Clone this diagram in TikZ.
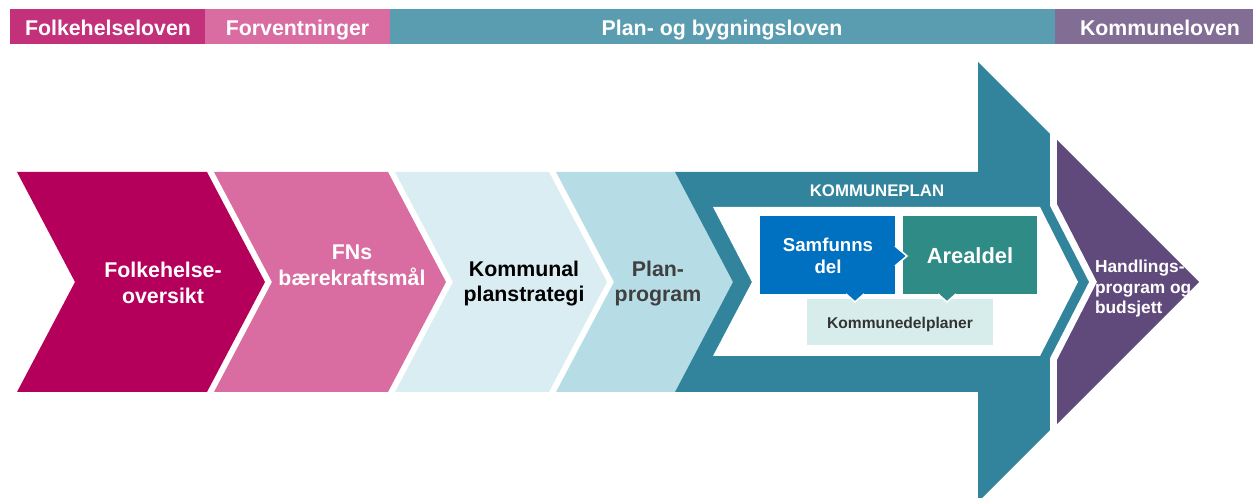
\documentclass[tikz,border=0pt]{standalone}
\usepackage{fontspec}
\setmainfont{Liberation Sans}
\definecolor{cHfolk}{HTML}{C4317B}
\definecolor{cForv}{HTML}{D96DA1}
\definecolor{cPbl}{HTML}{5B9DB0}
\definecolor{cKl}{HTML}{826D94}
\definecolor{cFolk}{HTML}{B4005A}
\definecolor{cPale}{HTML}{DAEDF3}
\definecolor{cPlanprog}{HTML}{B6DCE6}
\definecolor{cTeal}{HTML}{31849B}
\definecolor{cPurple}{HTML}{604A7B}
\definecolor{cSamf}{HTML}{0070C0}
\definecolor{cAreal}{HTML}{2F8B85}
\definecolor{cKdp}{HTML}{D6EDEC}
\definecolor{cDark}{HTML}{404040}
\begin{document}
\begin{tikzpicture}[x=0.75pt,y=-0.75pt,
  every node/.style={inner sep=0pt, outer sep=0pt},
  hdr/.style={anchor=base, text=white, font=\fontsize{16}{19}\selectfont\bfseries},
  chev/.style={align=center, font=\fontsize{16}{19.5}\selectfont\bfseries},
  pointer/.style={draw=white, line width=1.2pt, line join=miter}]
\useasboundingbox (0,0) rectangle (1253,498);
\clip (0,0) rectangle (1253,498);
% header bars
\fill[cHfolk] (10,9) rectangle (205,44);
\fill[cForv] (205,9) rectangle (390,44);
\fill[cPbl] (390,9) rectangle (1055,44);
\fill[cKl] (1055,9) rectangle (1253,44);
\node[hdr] (hfolk) at (108,35.5) {Folkehelseloven};
\node[hdr] (hforv) at (297.5,35.5) {Forventninger};
\node[hdr] (hpbl) at (722,35.5) {Plan- og bygningsloven};
\node[hdr] (hkl) at (1160,35.5) {Kommuneloven};
% chevrons
\fill[cFolk] (17,172) -- (207,172) -- (265,282) -- (207,392) -- (17,392) -- (75,282) -- cycle;
\fill[cForv] (214,172) -- (388,172) -- (446,282) -- (388,392) -- (214,392) -- (272,282) -- cycle;
\fill[cPale] (395,172) -- (549,172) -- (607,282) -- (549,392) -- (395,392) -- (453,282) -- cycle;
\fill[cPlanprog] (556,172) -- (675,172) -- (733,282) -- (675,392) -- (556,392) -- (614,282) -- cycle;
% big teal arrow
\fill[cTeal] (675,172) -- (978,172) -- (978,62) -- (1198,282) -- (978,502) -- (978,392) -- (675,392) -- (733,282) -- cycle;
\fill[white] (713,207) -- (1040,207) -- (1078,282) -- (1040,356) -- (713,356) -- (752,282) -- cycle;
% purple chevron with white gap
\draw[white, line width=10.5pt, line join=miter] (1057,140) -- (1199,282) -- (1057,424) -- (1057,360) -- (1097,282) -- (1057,204) -- cycle;
\fill[cPurple] (1057,140) -- (1199,282) -- (1057,424) -- (1057,360) -- (1097,282) -- (1057,204) -- cycle;
% inner boxes
\fill[cKdp] (807,299) rectangle (993,345);
\fill[cAreal] (903,216) rectangle (1037,294);
\fill[cSamf] (760,216) rectangle (895,294);
\filldraw[pointer, fill=cSamf] (895,246) -- (907,256) -- (895,266);
\filldraw[pointer, fill=cSamf] (846,294) -- (855,302) -- (864,294);
\filldraw[pointer, fill=cAreal] (938,294) -- (947,302) -- (956,294);
% texts
\node[chev, text=white] (folk) at (163,283) {Folkehelse-\\oversikt};
\node[chev, text=white] (fns) at (352,265) {FNs\\bærekraftsmål};
\node[chev, text=black, font=\fontsize{16}{19}\selectfont\bfseries] (kps) at (524,283.5) {Kommunal\\planstrategi};
\node[chev, text=cDark, font=\fontsize{16}{19}\selectfont\bfseries] (pp) at (658,283.3) {Plan-\\program};
\node[anchor=base, text=white, font=\fontsize{12.6}{15}\selectfont\bfseries] (kp) at (877,197) {KOMMUNEPLAN};
\node[align=center, text=white, font=\fontsize{14}{16.2}\selectfont\bfseries] (samf) at (828,255.8) {Samfunns\\del};
\node[anchor=base, text=white, font=\fontsize{16.4}{19}\selectfont\bfseries] (areal) at (970,263.3) {Arealdel};
\node[anchor=base, text=black!80, font=\fontsize{11.7}{14}\selectfont\bfseries] (kdp) at (900,329) {Kommunedelplaner};
\node[anchor=west, align=left, text=white, font=\fontsize{13}{15.2}\selectfont\bfseries] (hp) at (1095,288.6) {Handlings-\\program og\\budsjett};
\end{tikzpicture}
\end{document}
